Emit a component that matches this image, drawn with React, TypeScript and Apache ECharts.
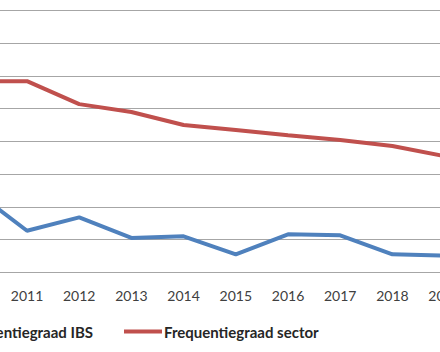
import React, { useEffect, useRef } from "react";
import * as echarts from "echarts";

const years = ["2010", "2011", "2012", "2013", "2014", "2015", "2016", "2017", "2018", "2019"];
const ibs = [2.48, 1.27, 1.68, 1.05, 1.1, 0.55, 1.16, 1.13, 0.55, 0.51];
const sector = [5.84, 5.84, 5.14, 4.9, 4.5, 4.35, 4.19, 4.04, 3.86, 3.55];
const seriesNames = ["Frequentiegraad IBS", "Frequentiegraad sector"];

export default function App() {
  const ref = useRef<HTMLDivElement>(null);
  useEffect(() => {
    if (!ref.current) return;
    const chart = echarts.init(ref.current, undefined, { renderer: "svg" });
    chart.setOption({
      animation: false,
      backgroundColor: "#ffffff",
      grid: {
        left: -51.3,
        right: -30.7,
        top: -22.2,
        height: 294.5,
        containLabel: false,
        outerBoundsMode: "none",
      },
      legend: [
        {
          data: [seriesNames[0]],
          right: 347,
          top: 324,
          padding: 0,
          icon: "rect",
          itemWidth: 38,
          itemHeight: 4,
          textStyle: { fontFamily: "Lato", fontWeight: "bold", fontSize: 15, color: "#262626" },
        },
        {
          data: [seriesNames[1]],
          left: 124,
          top: 324,
          padding: 0,
          icon: "rect",
          itemWidth: 38,
          itemHeight: 4,
          textStyle: { fontFamily: "Lato", fontWeight: "bold", fontSize: 15, color: "#262626", padding: [0, 0, 0, -3] },
        },
      ],
      xAxis: {
        type: "category",
        data: years,
        boundaryGap: true,
        axisLine: { show: false },
        axisTick: { show: false },
        axisLabel: { fontFamily: "Lato", fontSize: 14, color: "#404040", margin: 16 },
        splitLine: { show: false },
      },
      yAxis: {
        type: "value",
        min: 0,
        max: 9,
        interval: 1,
        axisLabel: { show: false },
        axisLine: { show: false },
        axisTick: { show: false },
        splitLine: { show: true, lineStyle: { color: "#a6a6a6", width: 1 } },
      },
      series: [
        {
          name: seriesNames[0],
          type: "line",
          data: ibs,
          symbol: "none",
          color: "#4f81bd",
          lineStyle: { color: "#4f81bd", width: 4 },
        },
        {
          name: seriesNames[1],
          type: "line",
          data: sector,
          symbol: "none",
          color: "#c0504d",
          lineStyle: { color: "#c0504d", width: 4 },
        },
      ],
    });
    return () => chart.dispose();
  }, []);
  return (
    <div
      ref={ref}
      style={{ position: "fixed", left: 0, top: 0, width: 440, height: 352, background: "#fff" }}
    />
  );
}
